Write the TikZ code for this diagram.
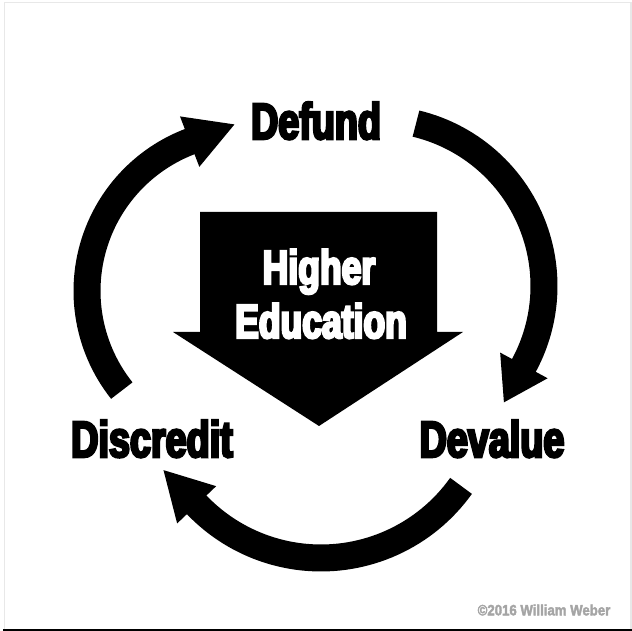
\documentclass[tikz,border=0pt]{standalone}
\usepackage{fontspec}
\newfontfamily\heavyfont{Liberation Sans Bold}[FakeStretch=0.74,FakeBold=5]
\newfontfamily\stampfont{Liberation Sans Bold}[FakeStretch=0.88,FakeBold=2.5]
\usepackage{tikz}
\usetikzlibrary{calc}
\definecolor{stamp}{RGB}{165,165,165}
\definecolor{rim}{RGB}{232,232,232}

\begin{document}
\begin{tikzpicture}[x=1pt,y=1pt,
  band/.style={line width=27pt},
  word/.style={font=\heavyfont\fontsize{51}{51}\selectfont, inner sep=0pt, anchor=base},
  core/.style={font=\heavyfont\fontsize{48}{48}\selectfont, text=white, inner sep=0pt, anchor=base}]
  \useasboundingbox (0,0) rectangle (632,631);
  % frame
  \draw[rim, line width=1.5pt] (4.7,2) -- (4.7,628.5) -- (630.8,628.5) -- (630.8,2);
  \draw[line width=2pt] (3,1) -- (632,1);
  % central down arrow
  \fill (200,419) -- (437,419) -- (437,299) -- (463,299) -- (319,205)
    -- (173,299) -- (200,299) -- cycle;
  \node[core] (higher) at (319,347) {Higher};
  \node[core] (education) at (321,293) {Education};
  % the three stages
  \node[word] (defund) at (316,492) {Defund};
  \node[word] (devalue) at (492,174) {Devalue};
  \node[word] (discredit) at (152,174) {Discredit};
  % arc centres
  \coordinate (cr) at (377,345);
  \coordinate (cb) at (321,245);
  \coordinate (cl) at (247,340);
  % defund -> devalue
  \draw[band] ($(cr)+(76.5:167)$) arc[start angle=76.5, end angle=-28.7, radius=167];
  \fill ($(cr)+(-28.4:140)$) -- ($(cr)+(-28.4:194)$)
    -- ($(cr)+(-28.4:167)+(-118.4:42)$) -- cycle;
  % devalue -> discredit
  \draw[band] ($(cb)+(-35.5:172)$) arc[start angle=-35.5, end angle=-136.6, radius=172];
  \fill ($(cb)+(-136.3:145)$) -- ($(cb)+(-136.3:199)$)
    -- ($(cb)+(-136.3:172)+(133.7:48)$) -- cycle;
  % discredit -> defund
  \draw[band] ($(cl)+(218.5:160)$) arc[start angle=218.5, end angle=110.7, radius=160];
  \fill ($(cl)+(111:133)$) -- ($(cl)+(111:187)$)
    -- ($(cl)+(111:160)+(21:48)$) -- cycle;
  % credit
  \node[font=\stampfont\fontsize{15}{15}\selectfont, text=stamp, inner sep=0pt]
    (credit) at (544,21) {\textcopyright2016 William Weber};
\end{tikzpicture}
\end{document}
